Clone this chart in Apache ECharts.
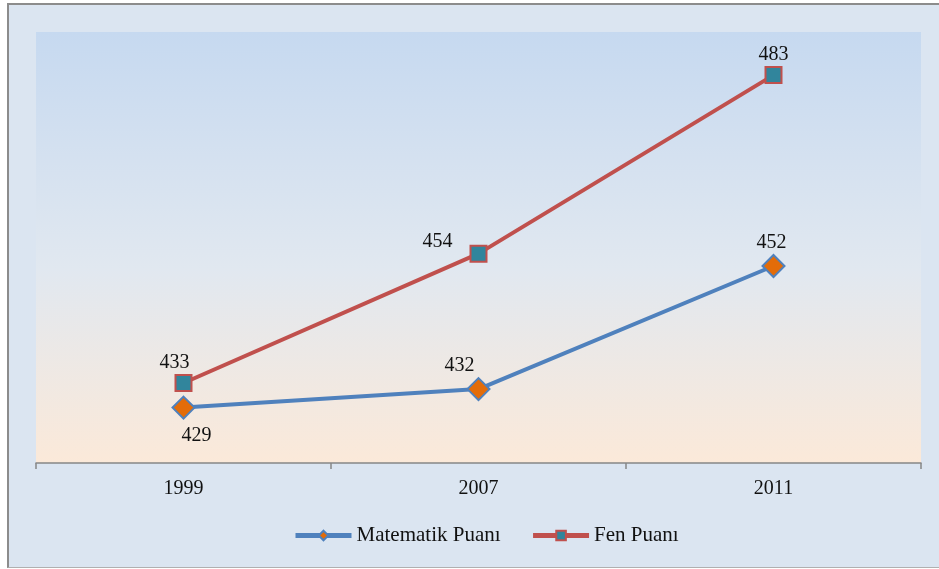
<!DOCTYPE html>
<html>
<head>
<meta charset="utf-8">
<script src="https://cdn.jsdelivr.net/npm/echarts@6/dist/echarts.min.js"></script>
<style>
  html, body { margin: 0; padding: 0; background: #ffffff; }
  #main { position: absolute; left: 7px; top: 3px; width: 932px; height: 565px;
          background: #dbe5f1; border-left: 2px solid #8c8c8c; border-top: 2px solid #8c8c8c;
          border-bottom: 1px solid #b0b0b0; box-sizing: border-box; }
</style>
</head>
<body>
<div id="main"></div>
<script>
var years = ["1999", "2007", "2011"];
var matematik = [429, 432, 452];
var fen = [433, 454, 483];

// label placement for each point (style only)
var matLabels = [
  { position: "bottom", offset: [13, 1] },
  { position: "top", offset: [-19, 4] },
  { position: "top", offset: [-2, 4] }
];
var fenLabels = [
  { position: "top", offset: [-9, 4] },
  { position: "left", offset: [-12, -12] },
  { position: "top", offset: [0, 4] }
];

function build(values, labels) {
  return values.map(function (v, i) {
    return { value: v, label: labels[i] };
  });
}

var myChart = echarts.init(document.getElementById("main"));
var option = {
  backgroundColor: "transparent",
  textStyle: { fontFamily: "Liberation Serif" },
  grid: {
    left: 27, right: 18, top: 27, bottom: 104,
    show: true,
    borderWidth: 0,
    backgroundColor: new echarts.graphic.LinearGradient(0, 0, 0, 1, [
      { offset: 0, color: "#c6d9f0" },
      { offset: 0.55, color: "#e1e8f0" },
      { offset: 1, color: "#fbe9d9" }
    ])
  },
  legend: {
    bottom: 16,
    left: 279,
    itemWidth: 56,
    itemHeight: 12,
    itemGap: 30,
    lineStyle: { width: 5 },
    textStyle: { fontFamily: "Liberation Serif", fontSize: 21, color: "#111" },
    data: ["Matematik Puanı", "Fen Puanı"]
  },
  xAxis: {
    type: "category",
    data: years,
    boundaryGap: true,
    axisLine: { show: true, lineStyle: { color: "#868686", width: 1.5 } },
    axisTick: { show: true, length: 6, lineStyle: { color: "#868686", width: 1.5 } },
    axisLabel: { fontFamily: "Liberation Serif", fontSize: 20, color: "#111", margin: 16 }
  },
  yAxis: {
    type: "value",
    min: 420,
    max: 490,
    show: false,
    splitLine: { show: false }
  },
  series: [
    {
      name: "Matematik Puanı",
      type: "line",
      data: build(matematik, matLabels),
      symbol: "diamond",
      symbolSize: 22,
      lineStyle: { color: "#4f81bd", width: 4 },
      itemStyle: { color: "#e36c09", borderColor: "#4f81bd", borderWidth: 2 },
      label: { show: true, fontFamily: "Liberation Serif", fontSize: 20, color: "#111" },
      z: 2
    },
    {
      name: "Fen Puanı",
      type: "line",
      data: build(fen, fenLabels),
      symbol: "rect",
      symbolSize: 16,
      lineStyle: { color: "#c0504d", width: 4 },
      itemStyle: { color: "#31859c", borderColor: "#c0504d", borderWidth: 2 },
      label: { show: true, fontFamily: "Liberation Serif", fontSize: 20, color: "#111" },
      z: 3
    }
  ]
};
myChart.setOption(option);
</script>
</body>
</html>
